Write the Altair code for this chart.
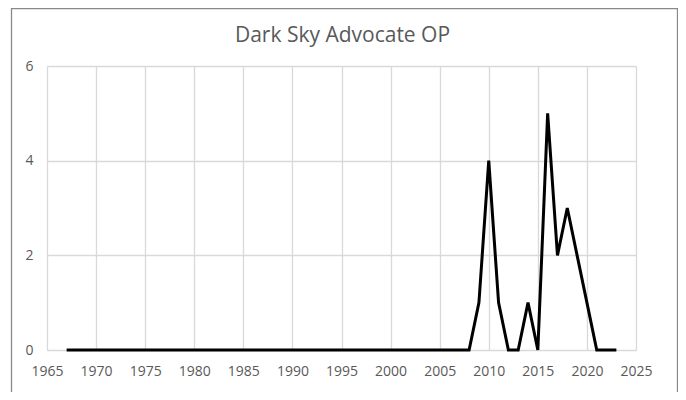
import altair as alt
import pandas as pd

years = list(range(1967, 2024))
counts = [0]*42 + [1, 4, 1, 0, 0, 1, 0, 5, 2, 3, 2, 1, 0, 0, 0]
title_text = "Dark Sky Advocate OP"

df = pd.DataFrame({"year": years, "count": counts})

W, H = 589, 284
FONT = "Open Sans"
GRAY = "#595959"

border = alt.Chart(pd.DataFrame({"a": [0]})).mark_rect(
    fill="transparent", stroke="#898989", strokeWidth=1.3, clip=False
).encode(
    x=alt.value(-35.5), x2=alt.value(630.5), y=alt.value(-57.5), y2=alt.value(345)
)

title = alt.Chart(pd.DataFrame({"t": [title_text]})).mark_text(
    font=FONT, fontSize=21, color=GRAY, baseline="middle", align="center"
).encode(text="t:N", x=alt.value(W / 2 + 1), y=alt.value(-30))

line = alt.Chart(df).mark_line(color="black", strokeWidth=3).encode(
    x=alt.X("year:Q", scale=alt.Scale(domain=[1965, 2025], nice=False, zero=False),
            axis=alt.Axis(values=list(range(1965, 2026, 5)), format="d", title=None,
                          ticks=False, labelPadding=14, domainColor="#d9d9d9",
                          gridColor="#d9d9d9", labelColor=GRAY, labelFont=FONT,
                          labelFontSize=14, labelFlush=False)),
    y=alt.Y("count:Q", scale=alt.Scale(domain=[0, 6], nice=False),
            axis=alt.Axis(values=[0, 2, 4, 6], title=None, ticks=False, labelPadding=14,
                          domain=False, gridColor="#d9d9d9", labelColor=GRAY,
                          labelFont=FONT, labelFontSize=14)),
)

chart = alt.layer(border, title, line).properties(
    width=W, height=H,
    autosize=alt.AutoSizeParams(type="none"),
    padding={"left": 39, "top": 58, "right": 42, "bottom": 42},
).configure_view(stroke=None).configure_axis(gridWidth=1.3)

chart.save("out.html", embed_options={"renderer": "svg", "actions": False})
